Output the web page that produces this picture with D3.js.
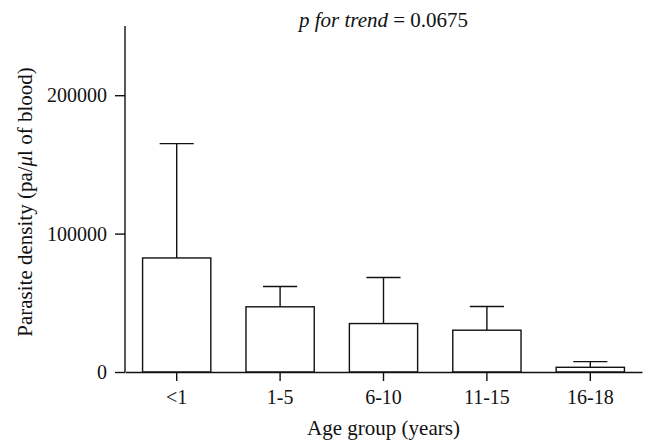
<!DOCTYPE html>
<html>
<head>
<meta charset="utf-8">
<script src="https://cdn.jsdelivr.net/npm/d3@7"></script>
<style>
  body {margin:0; background:#fff;}
  svg text {font-family:"Liberation Serif", "DejaVu Serif", serif; fill:#111;}
</style>
</head>
<body>
<svg width="645" height="445"></svg>
<script>
var ageGroups = ["<1", "1-5", "6-10", "11-15", "16-18"];
var meanDensity = [82400, 47100, 35000, 30200, 3400];
var upperError = [165000, 61800, 68300, 47300, 7500];
var yTicks = [0, 100000, 200000];

var svg = d3.select("svg"),
    margin = {top: 26, right: 3, bottom: 73, left: 125},
    width = +svg.attr("width") - margin.left - margin.right,
    height = +svg.attr("height") - margin.top - margin.bottom,
    g = svg.append("g").attr("transform", "translate(" + margin.left + "," + margin.top + ")");

var x = d3.scaleBand()
    .domain(ageGroups)
    .range([0, width])
    .paddingInner(0.34)
    .paddingOuter(0.17);

var y = d3.scaleLinear()
    .domain([0, 250000])
    .range([height, 0]);

var data = ageGroups.map(function(d, i) {
  return {group: d, mean: meanDensity[i], upper: upperError[i]};
});

// error bars (upper only)
var err = g.append("g").attr("stroke", "#111").attr("stroke-width", 1.4);
err.selectAll("line.stem")
  .data(data).enter().append("line")
    .attr("class", "stem")
    .attr("x1", function(d) { return x(d.group) + x.bandwidth() / 2; })
    .attr("x2", function(d) { return x(d.group) + x.bandwidth() / 2; })
    .attr("y1", function(d) { return y(d.mean); })
    .attr("y2", function(d) { return y(d.upper); });
err.selectAll("line.cap")
  .data(data).enter().append("line")
    .attr("class", "cap")
    .attr("x1", function(d) { return x(d.group) + x.bandwidth() * 0.25; })
    .attr("x2", function(d) { return x(d.group) + x.bandwidth() * 0.75; })
    .attr("y1", function(d) { return y(d.upper); })
    .attr("y2", function(d) { return y(d.upper); });

g.selectAll("rect.bar")
  .data(data).enter().append("rect")
    .attr("class", "bar")
    .attr("x", function(d) { return x(d.group); })
    .attr("width", x.bandwidth())
    .attr("y", function(d) { return y(d.mean); })
    .attr("height", function(d) { return height - y(d.mean); })
    .attr("fill", "#fff")
    .attr("stroke", "#111")
    .attr("stroke-width", 1.4);

var yAxis = g.append("g")
    .call(d3.axisLeft(y).tickValues(yTicks).tickSize(10).tickPadding(8).tickFormat(d3.format("d")));
var xAxis = g.append("g")
    .attr("transform", "translate(0," + height + ")")
    .call(d3.axisBottom(x).tickSize(9).tickPadding(9).tickSizeOuter(0));

[yAxis, xAxis].forEach(function(a) {
  a.attr("font-family", null).attr("font-size", 20);
  a.select(".domain").attr("stroke", "#111").attr("stroke-width", 1.4);
  a.selectAll(".tick line").attr("stroke", "#111").attr("stroke-width", 1.4);
  a.selectAll(".tick text").attr("fill", "#111");
});
yAxis.select(".domain").attr("d", "M0," + height + "V0");

var ylab = svg.append("text")
    .attr("transform", "rotate(-90)")
    .attr("x", -202)
    .attr("y", 32)
    .attr("text-anchor", "middle")
    .attr("font-size", 21);
ylab.append("tspan").text("Parasite density (pa/");
ylab.append("tspan").attr("font-style", "italic").text("μ");
ylab.append("tspan").text("l of blood)");

svg.append("text")
    .attr("x", margin.left + width / 2)
    .attr("y", 435)
    .attr("text-anchor", "middle")
    .attr("font-size", 21)
    .text("Age group (years)");

var title = svg.append("text")
    .attr("x", margin.left + width / 2)
    .attr("y", 27)
    .attr("text-anchor", "middle")
    .attr("font-size", 21);
title.append("tspan").attr("font-style", "italic").text("p  for trend");
title.append("tspan").text(" = 0.0675");
</script>
</body>
</html>
